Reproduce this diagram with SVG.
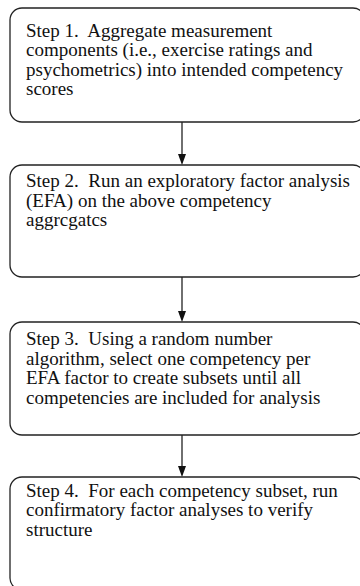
<svg xmlns="http://www.w3.org/2000/svg" width="360" height="586" viewBox="0 0 360 586">
<style>
.box{fill:#fff;stroke:#222;stroke-width:1.3}
.c{stroke:#222;stroke-width:1.3;fill:none}
.h{fill:#111}
</style>
<rect width="360" height="586" fill="#fff"/>
<g id="connectors">
<line class="c" x1="182" y1="122" x2="182" y2="156"/>
<polygon class="h" points="178,154 186,154 182,165"/>
<line class="c" x1="182" y1="277" x2="182" y2="313"/>
<polygon class="h" points="178,311 186,311 182,322"/>
<line class="c" x1="182" y1="435" x2="182" y2="468"/>
<polygon class="h" points="178,466 186,466 182,477"/>
</g>
<g id="step1">
<rect class="box" x="10" y="8" width="355" height="114" rx="12"/>
<text x="26" y="36.7" font-family="Liberation Serif, serif" font-size="19" fill="#111" xml:space="preserve">Step 1.  Aggregate measurement</text>
<text x="26" y="56.2" font-family="Liberation Serif, serif" font-size="19" fill="#111">components (i.e., exercise ratings and</text>
<text x="26" y="75.7" font-family="Liberation Serif, serif" font-size="19" fill="#111">psychometrics) into intended competency</text>
<text x="26" y="95.2" font-family="Liberation Serif, serif" font-size="19" fill="#111">scores</text>
</g>
<g id="step2">
<rect class="box" x="10" y="165" width="355" height="112" rx="12"/>
<text x="26" y="187" font-family="Liberation Serif, serif" font-size="19" fill="#111" xml:space="preserve">Step 2.  Run an exploratory factor analysis</text>
<text x="26" y="206.5" font-family="Liberation Serif, serif" font-size="19" fill="#111">(EFA) on the above competency</text>
<text x="26" y="226" font-family="Liberation Serif, serif" font-size="19" fill="#111">aggrcgatcs</text>
</g>
<g id="step3">
<rect class="box" x="10" y="322" width="355" height="113" rx="12"/>
<text x="26" y="345" font-family="Liberation Serif, serif" font-size="19" fill="#111" xml:space="preserve">Step 3.  Using a random number</text>
<text x="26" y="364.5" font-family="Liberation Serif, serif" font-size="19" fill="#111">algorithm, select one competency per</text>
<text x="26" y="384" font-family="Liberation Serif, serif" font-size="19" fill="#111">EFA factor to create subsets until all</text>
<text x="26" y="403.5" font-family="Liberation Serif, serif" font-size="19" fill="#111">competencies are included for analysis</text>
</g>
<g id="step4">
<rect class="box" x="10" y="477" width="355" height="113" rx="12"/>
<text x="26" y="496.5" font-family="Liberation Serif, serif" font-size="19" fill="#111" xml:space="preserve">Step 4.  For each competency subset, run</text>
<text x="26" y="516" font-family="Liberation Serif, serif" font-size="19" fill="#111">confirmatory factor analyses to verify</text>
<text x="26" y="535.5" font-family="Liberation Serif, serif" font-size="19" fill="#111">structure</text>
</g>
</svg>
